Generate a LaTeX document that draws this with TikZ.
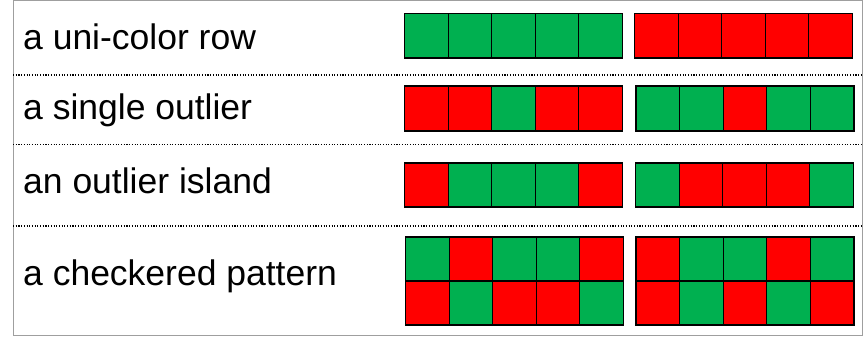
\documentclass[tikz,border=0pt]{standalone}
\usepackage{fontspec}
\setmainfont{Liberation Sans}
\definecolor{cg}{HTML}{00B050}
\definecolor{cr}{HTML}{FF0000}
\begin{document}
\begin{tikzpicture}[x=1pt,y=-1pt,
  cellbox/.style={draw=black, line width=1.1pt},
  lab/.style={anchor=base west, font=\fontsize{35.5}{40}\selectfont, inner sep=0pt},
  sep/.style={line width=1.1pt, dash pattern=on 1.1pt off 1.6pt},
  frame/.style={draw=gray!75, line width=1pt}]
\useasboundingbox (0,0) rectangle (864,337);
\draw[frame] (13,1) rectangle (862,335);
\draw[sep] (13,75) -- (862,75);
\draw[sep] (13,144.5) -- (862,144.5);
\draw[sep] (13,226) -- (862,226);
\node[lab] (t1) at (23,50) {a uni-color row};
\node[lab] (t2) at (23,119) {a single outlier};
\node[lab] (t3) at (23,193) {an outlier island};
\node[lab] (t4) at (23,285) {a checkered pattern};
\newcommand\cellstrip[4]{%
  \foreach \c [count=\i from 0] in {#4} {
    \draw[cellbox, fill=\c] ({#1+\i*43.6},#2) rectangle ++(43.6,#3);
  }}
\cellstrip{404.5}{13.5}{44.5}{cg,cg,cg,cg,cg}
\cellstrip{634.5}{13.5}{44.5}{cr,cr,cr,cr,cr}
\cellstrip{404.5}{86}{45}{cr,cr,cg,cr,cr}
\cellstrip{636}{86}{45}{cg,cg,cr,cg,cg}
\cellstrip{404.5}{163}{44}{cr,cg,cg,cg,cr}
\cellstrip{635.5}{163}{44}{cg,cr,cr,cr,cg}
\cellstrip{405.5}{237}{44}{cg,cr,cg,cg,cr}
\cellstrip{405.5}{281}{44}{cr,cg,cr,cr,cg}
\cellstrip{636}{237}{44}{cr,cg,cg,cr,cg}
\cellstrip{636}{281}{44}{cr,cg,cr,cg,cr}
\end{tikzpicture}
\end{document}
